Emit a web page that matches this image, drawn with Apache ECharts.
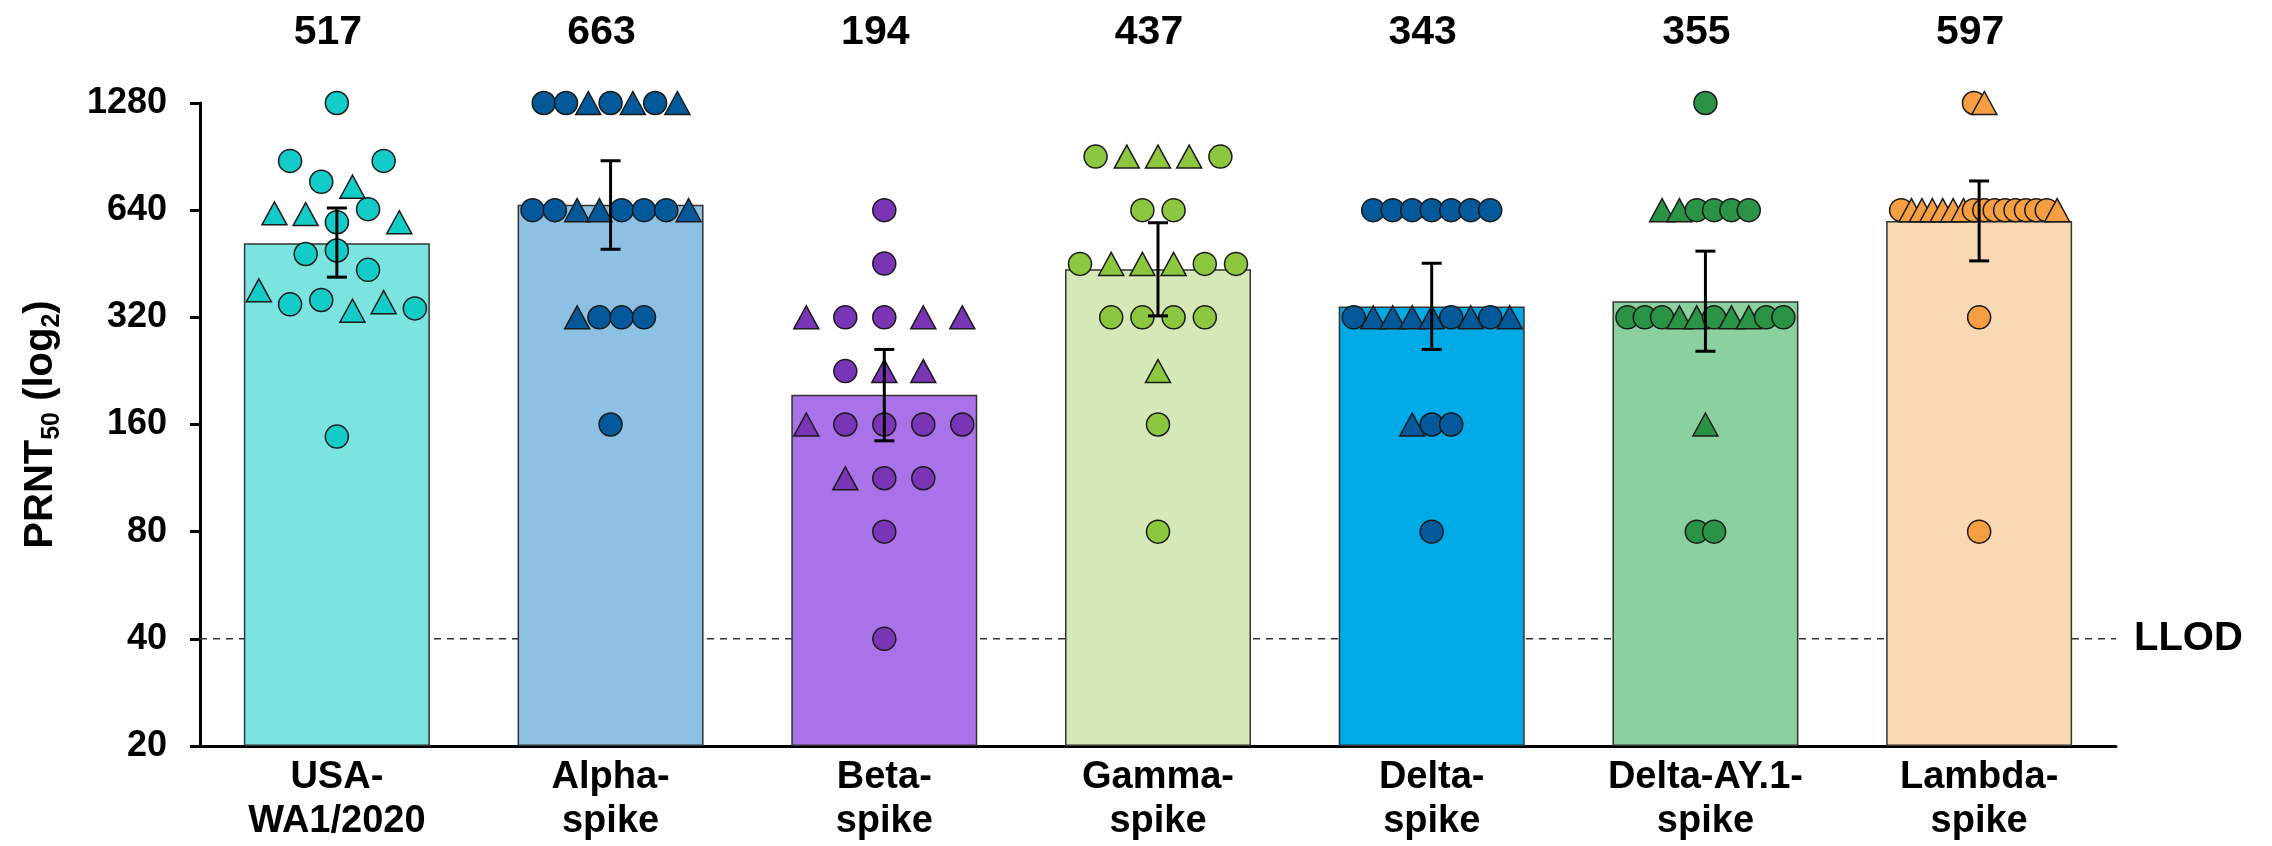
<!DOCTYPE html>
<html><head><meta charset="utf-8">
<script src="https://cdn.jsdelivr.net/npm/echarts@6/dist/echarts.min.js"></script>
<style>html,body{margin:0;padding:0;background:#fff}#chart{width:2272px;height:846px}</style>
</head><body><div id="chart"></div>
<script>
// ---------- DATA ----------
const categories = ['USA-\nWA1/2020', 'Alpha-\nspike', 'Beta-\nspike', 'Gamma-\nspike', 'Delta-\nspike', 'Delta-AY.1-\nspike', 'Lambda-\nspike'];
const geoMeanTiters = [517, 663, 194, 437, 343, 355, 597];
const errorLow  = [415, 497, 144, 323, 260, 257, 461];
const errorHigh = [649, 881, 260, 590, 454, 491, 773];
const yTickLabels = ['20', '40', '80', '160', '320', '640', '1280'];
const llodTiter = 40;

// individual titers (listed top row to bottom row, left to right) and symbol shapes (c = circle, t = triangle)
const wa1Titers   = [1280, 880, 769, 745, 880, 627, 624, 592, 644, 592, 482, 493, 435, 381, 348, 358, 334, 353, 339, 148];
const wa1Shapes   = ['c', 'c', 'c', 't', 'c', 't', 't', 'c', 'c', 't', 'c', 'c', 'c', 't', 'c', 'c', 't', 't', 'c', 'c'];
const alphaTiters = [1280, 1280, 1280, 1280, 1280, 1280, 1280, 640, 640, 640, 640, 640, 640, 640, 640, 320, 320, 320, 320, 160];
const alphaShapes = ['c', 'c', 't', 'c', 't', 'c', 't', 'c', 'c', 't', 't', 'c', 'c', 'c', 't', 't', 'c', 'c', 'c', 'c'];
const betaTiters  = [640, 453, 320, 320, 320, 320, 320, 226, 226, 226, 160, 160, 160, 160, 160, 113, 113, 113, 80, 40];
const betaShapes  = ['c', 'c', 't', 'c', 'c', 't', 't', 'c', 't', 't', 't', 'c', 'c', 'c', 'c', 't', 'c', 'c', 'c', 'c'];
const gammaTiters = [905, 905, 905, 905, 905, 640, 640, 452, 452, 452, 452, 452, 452, 320, 320, 320, 320, 226, 160, 80];
const gammaShapes = ['c', 't', 't', 't', 'c', 'c', 'c', 'c', 't', 't', 't', 'c', 'c', 'c', 'c', 'c', 'c', 't', 'c', 'c'];
const deltaTiters = [640, 640, 640, 640, 640, 640, 640, 320, 320, 320, 320, 320, 320, 320, 320, 320, 160, 160, 160, 80];
const deltaShapes = ['c', 'c', 'c', 'c', 'c', 'c', 'c', 'c', 't', 't', 't', 't', 'c', 't', 'c', 't', 't', 'c', 'c', 'c'];
const ay1Titers   = [1280, 640, 640, 640, 640, 640, 640, 320, 320, 320, 320, 320, 320, 320, 320, 320, 320, 160, 80, 80];
const ay1Shapes   = ['c', 't', 't', 'c', 'c', 'c', 'c', 'c', 'c', 'c', 't', 't', 'c', 't', 't', 'c', 'c', 't', 'c', 'c'];
const lambdaTiters = [1280, 1280, 640, 640, 640, 640, 640, 640, 640, 640, 640, 640, 640, 640, 640, 640, 640, 640, 320, 80];
const lambdaShapes = ['c', 't', 'c', 't', 't', 't', 't', 't', 't', 'c', 'c', 'c', 'c', 'c', 'c', 'c', 'c', 't', 'c', 'c'];

const barColors    = ['#7BE3E0', '#8DC1E3', '#AA72E8', '#D5E8B8', '#00AAE6', '#8DD0A0', '#F9D8B4'];
const markerColors = ['#14CCC7', '#03599A', '#7A35B6', '#8DC63F', '#03599A', '#2A9346', '#F59E42'];

// ---------- LAYOUT ----------
const W = 2272, H = 846;
const GRID = { left: 200, right: 156, top: 103, bottom: 100 };
const plotW = W - GRID.left - GRID.right;
const plotH = H - GRID.top - GRID.bottom;
const yUnits = yTickLabels.length - 1;
const pxPerUnit = plotH / yUnits;
const pxPerCat = plotW / categories.length;
const FONT = "'Liberation Sans', Arial, Helvetica, sans-serif";
const toLog = v => Math.log2(v / 20);
const catCenter = i => i + 0.5;           // position of category i on the companion value x-axis [0, n]
const CIRCLE_R = 11.5, TRI_HALF_W = 12.5, TRI_HALF_H = 11.5;

// beeswarm-style spreading (rows of similar values, centred); returns [x, y, isTriangle]
function swarm(titers, shapes, catIdx) {
  const pts = titers.map((v, i) => ({ v, s: shapes[i], i, y: toLog(v) }));
  const sorted = pts.slice().sort((a, b) => b.y - a.y || a.i - b.i);
  const rows = [];
  let cur = null;
  const binPx = 28;
  sorted.forEach(p => {
    if (!cur || (cur.y0 - p.y) * pxPerUnit > binPx) { cur = { y0: p.y, pts: [] }; rows.push(cur); }
    cur.pts.push(p);
  });
  const maxRow = Math.max(...rows.map(r => r.pts.length));
  const spacingPx = maxRow > 1 ? Math.min(40, 156 / (maxRow - 1)) : 0;
  const out = [];
  rows.forEach(r => {
    r.pts.sort((a, b) => a.i - b.i);
    const n = r.pts.length;
    r.pts.forEach((p, k) => {
      const offPx = (k - (n - 1) / 2) * spacingPx;
      out.push([catCenter(catIdx) + offPx / pxPerCat, p.y, p.s === 't' ? 1 : 0]);
    });
  });
  return out;
}

const groups = [
  [wa1Titers, wa1Shapes], [alphaTiters, alphaShapes], [betaTiters, betaShapes],
  [gammaTiters, gammaShapes], [deltaTiters, deltaShapes], [ay1Titers, ay1Shapes],
  [lambdaTiters, lambdaShapes]
];

const markerSeries = groups.map((g, idx) => ({
  type: 'custom',
  xAxisIndex: 1,
  yAxisIndex: 0,
  z: 3,
  silent: true,
  data: swarm(g[0], g[1], idx),
  encode: { x: 0, y: 1 },
  renderItem: (params, api) => {
    const p = api.coord([api.value(0), api.value(1)]);
    const style = { fill: markerColors[idx], stroke: '#1a1a1a', lineWidth: 1.5 };
    if (api.value(2) === 1) {
      return { type: 'polygon', shape: { points: [[p[0], p[1] - TRI_HALF_H], [p[0] + TRI_HALF_W, p[1] + TRI_HALF_H], [p[0] - TRI_HALF_W, p[1] + TRI_HALF_H]] }, style };
    }
    return { type: 'circle', shape: { cx: p[0], cy: p[1], r: CIRCLE_R }, style };
  }
}));

const chart = echarts.init(document.getElementById('chart'), null, { renderer: 'canvas' });
chart.setOption({
  animation: false,
  backgroundColor: '#ffffff',
  textStyle: { fontFamily: FONT },
  grid: { left: GRID.left, right: GRID.right, top: GRID.top, bottom: GRID.bottom, containLabel: false },
  xAxis: [
    {
      type: 'category', data: categories, position: 'bottom',
      axisLine: { show: true, onZero: false, lineStyle: { color: '#000', width: 3 } },
      axisTick: { show: false },
      splitLine: { show: false },
      axisLabel: { color: '#000', fontFamily: FONT, fontWeight: 'bold', fontSize: 38, lineHeight: 44, margin: 10, interval: 0 }
    },
    {
      type: 'value', min: 0, max: categories.length, show: false,
      axisLine: { show: false, onZero: false }, splitLine: { show: false }, axisTick: { show: false }, axisLabel: { show: false }
    },
    {
      type: 'category', data: geoMeanTiters.map(String), position: 'top',
      axisLine: { show: false, onZero: false }, axisTick: { show: false }, splitLine: { show: false },
      axisLabel: { color: '#000', fontFamily: FONT, fontWeight: 'bold', fontSize: 41, margin: 50, interval: 0, padding: [0, 18, 0, 0] }
    }
  ],
  yAxis: [{
    type: 'value', min: 0, max: yUnits, interval: 1,
    axisLine: { show: true, onZero: false, lineStyle: { color: '#000', width: 3 } },
    axisTick: { show: true, length: 10, inside: false, lineStyle: { color: '#000', width: 3 } },
    splitLine: { show: false },
    axisLabel: { color: '#000', fontFamily: FONT, fontWeight: 'bold', fontSize: 36, margin: 33,
      formatter: v => yTickLabels[Math.round(v)] },
    name: '{a|PRNT}{s|50}{a| (log}{s|2}{a|)}',
    nameLocation: 'middle', nameRotate: 90, nameGap: 135,
    nameTextStyle: {
      rich: {
        a: { fontFamily: FONT, fontWeight: 'bold', fontSize: 40, lineHeight: 48, color: '#000' },
        s: { fontFamily: FONT, fontWeight: 'bold', fontSize: 25, lineHeight: 25, verticalAlign: 'bottom', color: '#000' }
      }
    }
  }],
  series: [
    {
      type: 'line', xAxisIndex: 1, yAxisIndex: 0, z: 1, silent: true,
      data: [[0, toLog(llodTiter)], [categories.length, toLog(llodTiter)]],
      symbol: 'none',
      lineStyle: { color: '#333', width: 1.5, type: [7, 6] },
      endLabel: { show: true, formatter: 'LLOD', color: '#000', fontFamily: FONT, fontWeight: 'bold', fontSize: 40, distance: 18 }
    },
    {
      type: 'bar', xAxisIndex: 0, yAxisIndex: 0, z: 2, silent: true,
      barWidth: 186,
      data: geoMeanTiters.map((v, i) => ({ value: toLog(v), itemStyle: { color: barColors[i] } })),
      itemStyle: { borderColor: '#333', borderWidth: 1.5 }
    },
    ...markerSeries,
    {
      type: 'custom', xAxisIndex: 1, yAxisIndex: 0, z: 4, silent: true,
      dimensions: ['cat', 'low', 'high'],
      data: geoMeanTiters.map((v, i) => [catCenter(i), toLog(errorLow[i]), toLog(errorHigh[i])]),
      encode: { x: 'cat', y: ['low', 'high'] },
      renderItem: (params, api) => {
        const x = api.value('cat');
        const lo = api.coord([x, api.value('low')]);
        const hi = api.coord([x, api.value('high')]);
        const cap = 10;
        const st = { stroke: '#000', lineWidth: 3 };
        return {
          type: 'group', children: [
            { type: 'line', shape: { x1: lo[0], y1: lo[1], x2: hi[0], y2: hi[1] }, style: st },
            { type: 'line', shape: { x1: hi[0] - cap, y1: hi[1], x2: hi[0] + cap, y2: hi[1] }, style: st },
            { type: 'line', shape: { x1: lo[0] - cap, y1: lo[1], x2: lo[0] + cap, y2: lo[1] }, style: st }
          ]
        };
      }
    }
  ]
});
</script></body></html>
